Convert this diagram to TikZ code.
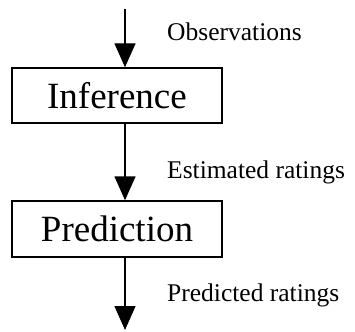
\documentclass[tikz,border=0pt]{standalone}
\usepackage{fontspec}
\setmainfont{Liberation Serif}
\usetikzlibrary{arrows.meta}
\tikzset{
  procbox/.style={draw, line width=1.4pt, minimum width=210pt, minimum height=55pt, inner sep=0pt, font=\fontsize{37}{40}\selectfont},
  flow/.style={line width=1.4pt, -{Triangle[width=21pt,length=24pt]}},
  lbl/.style={anchor=base west, inner sep=0pt, font=\fontsize{25.5}{28}\selectfont}
}
\begin{document}
\begin{tikzpicture}[x=1pt,y=-1pt]
\useasboundingbox (0,0) rectangle (355,331);
\node[procbox] (inf) at (117,95.5) {Inference};
\node[procbox, minimum height=56pt] (pred) at (117,229) {Prediction};
\coordinate (start) at (125,9);
\coordinate (out) at (125,330);
\draw[flow] (start) -- (inf.north -| start);
\draw[flow] (inf.south -| start) -- (pred.north -| start);
\draw[flow] (pred.south -| start) -- (out);
\node[lbl] (l1) at (167,41) {Observations};
\node[lbl] (l2) at (167,178) {Estimated ratings};
\node[lbl] (l3) at (167,301) {Predicted ratings};
\end{tikzpicture}
\end{document}
